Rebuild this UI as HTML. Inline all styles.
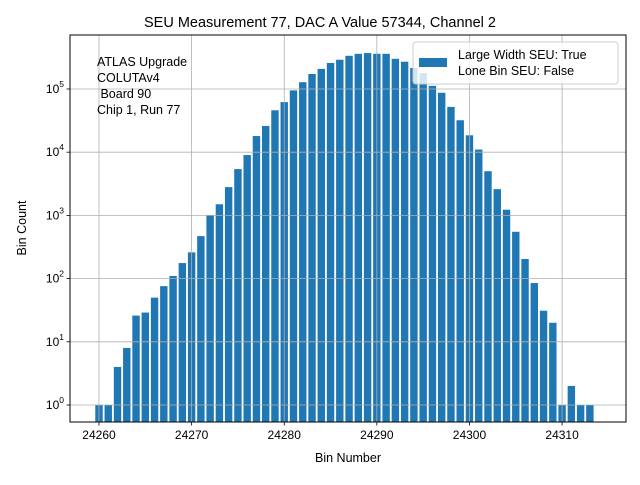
<!DOCTYPE html>
<html><head><meta charset="utf-8"><style>
body{margin:0;background:#fff}
svg text{font-family:"Liberation Sans","DejaVu Sans",sans-serif;fill:#000}
</style></head><body>
<svg id="chart" width="640" height="480" viewBox="0 0 640 480" xmlns="http://www.w3.org/2000/svg">
<rect width="640" height="480" fill="#fff"/>
<g id="bars"></g>
<g id="grid"></g>
<rect x="70" y="35" width="556" height="387" fill="none" stroke="#000" stroke-width="1"/>
<g id="ticks"></g>
<text x="320" y="27" font-size="14.5" text-anchor="middle">SEU Measurement 77, DAC A Value 57344, Channel 2</text>
<text x="348" y="462" font-size="12.5" text-anchor="middle">Bin Number</text>
<text transform="translate(26,228) rotate(-90)" font-size="12.5" text-anchor="middle">Bin Count</text>
<g font-size="12.5">
<text x="97" y="66">ATLAS Upgrade</text>
<text x="97" y="82">COLUTAv4</text>
<text x="97" y="98">&#160;Board 90</text>
<text x="97" y="114">Chip 1, Run 77</text>
</g>
<g>
<rect x="413" y="42" width="205" height="42" rx="3" fill="#fff" fill-opacity="0.8" stroke="#ccc"/>
<rect x="419" y="58" width="28" height="9" fill="#1f77b4"/>
<text x="458" y="59" font-size="12.5">Large Width SEU: True</text>
<text x="458" y="75" font-size="12.5">Lone Bin SEU: False</text>
</g>
</svg>
<script>
const bins = [24260,24261,24262,24263,24264,24265,24266,24267,24268,24269,24270,24271,24272,24273,24274,24275,24276,24277,24278,24279,24280,24281,24282,24283,24284,24285,24286,24287,24288,24289,24290,24291,24292,24293,24294,24295,24296,24297,24298,24299,24300,24301,24302,24303,24304,24305,24306,24307,24308,24309,24310,24311,24312,24313];
const counts = [1,1,4,8,26,29,50,76,110,176,260,470,1000,1500,2800,5400,9000,18000,26000,46000,62000,95000,128000,173000,208000,258000,290000,335000,360000,370000,360000,360000,300000,270000,215000,178000,112000,87000,52000,32000,18500,11000,5000,2600,1230,550,204,85,31,20,1,2,1,1];
const xTicks = [24260,24270,24280,24290,24300,24310];
const yTickExps = [0,1,2,3,4,5];
const NS="http://www.w3.org/2000/svg";
const L=70,R=626,T=35,B=422, xmin=24256.87,xmax=24316.9, lmin=-0.269,lmax=5.854;
function xs(v){return L+(v-xmin)/(xmax-xmin)*(R-L);}
function ys(v){return B-(Math.log10(v)-lmin)/(lmax-lmin)*(B-T);}
function mk(tag,attrs,parent){const e=document.createElementNS(NS,tag);for(const k in attrs)e.setAttribute(k,attrs[k]);parent.appendChild(e);return e;}
const grid=document.getElementById('grid'),bars=document.getElementById('bars'),ticks=document.getElementById('ticks');
xTicks.forEach(t=>{const x=xs(t);
 const g=mk('line',{x1:x,x2:x,y1:T,y2:B,stroke:'#b0b0b0','stroke-width':0.8},grid);
 
 
 mk('line',{x1:x,x2:x,y1:B,y2:B+3.5,stroke:'#000','stroke-width':0.8},ticks);
 const tx=mk('text',{x:x,y:B+17,'font-size':12,'text-anchor':'middle'},ticks);tx.textContent=t;
 
 
});
yTickExps.forEach(e=>{const y=ys(Math.pow(10,e));
 const g=mk('line',{x1:L,x2:R,y1:y,y2:y,stroke:'#b0b0b0','stroke-width':0.8},grid);
 
 
 mk('line',{x1:L-3.5,x2:L,y1:y,y2:y,stroke:'#000','stroke-width':0.8},ticks);
 const tx=mk('text',{x:L-6,y:y+4,'font-size':12,'text-anchor':'end'},ticks);
 tx.textContent='10';
 const s=mk('tspan',{dy:-6,'font-size':8.5},tx);s.textContent=e;
 
 
});
bins.forEach((b,i)=>{const x0=xs(b-0.4),x1=xs(b+0.4),y=ys(counts[i]);
 const r=mk('rect',{x:x0,y:y,width:x1-x0,height:B-y,fill:'#1f77b4'},bars);
 
 
});
</script>
</body></html>
